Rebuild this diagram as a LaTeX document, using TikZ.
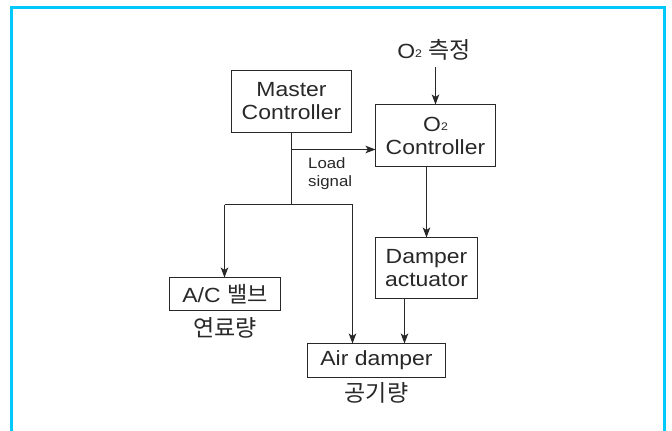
\documentclass[tikz,border=0pt]{standalone}
\usepackage{fontspec}
\setmainfont[FakeStretch=1.12]{Liberation Sans}
\newfontfamily\kr{Noto Sans CJK KR}
\usetikzlibrary{arrows.meta,calc}
\definecolor{frame}{RGB}{0,200,250}
\definecolor{ink}{RGB}{40,40,40}
\newcommand{\sub}[1]{\raisebox{1pt}{\fontsize{11}{11}\selectfont #1}}
\begin{document}
\begin{tikzpicture}[x=1pt,y=-1pt,
  box/.style={draw=ink,line width=1pt,text=ink,align=center,inner sep=0pt,outer sep=0pt,
    font=\fontsize{20.5}{23}\selectfont},
  arr/.style={draw=ink,line width=1pt,-{Stealth[length=10pt,width=7.5pt,inset=2.5pt]}},
  ln/.style={draw=ink,line width=1pt},
  lbl/.style={text=ink,inner sep=0pt,font=\fontsize{23}{25}\kr}]
\useasboundingbox (0,0) rectangle (672,431);
\fill[white] (0,0) rectangle (672,431);
\draw[frame,line width=3pt] (11.5,440) -- (11.5,7.5) -- (664.5,7.5) -- (664.5,440);

\node[box,minimum width=120pt,minimum height=62pt] (master) at (291.5,101.5) {Master\\Controller};
\node[box,minimum width=120pt,minimum height=62pt] (o2c) at (435.5,135.5) {O\sub{2}\\Controller};
\node[box,minimum width=102pt,minimum height=61pt] (dact) at (426.5,268) {Damper\\actuator};
\node[box,minimum width=111pt,minimum height=33pt] (ac) at (225,294) {A/C {\kr\fontsize{22}{23}\selectfont 밸브}};
\node[box,minimum width=138pt,minimum height=34pt] (air) at (376.5,360.5) {Air damper};

\node[text=ink,inner sep=0pt,font=\fontsize{20.5}{23}\selectfont] (o2m) at (434,50) {O\sub{2} {\kr\fontsize{23}{25}\selectfont 측정}};
\node[lbl] (fuel) at (225,328) {연료량};
\node[lbl] (airq) at (376.5,393) {공기량};
\node[text=ink,inner sep=0pt,align=left,anchor=north west,font=\fontsize{15}{18}\selectfont] (load) at (308,157) {Load\\signal};

\coordinate (ls) at (291.5,149.5);
\coordinate (j) at (291.5,204.5);
\coordinate (jl) at (224.5,204.5);
\coordinate (jr) at (352.5,204.5);
\coordinate (o2top) at (435.5,67);
\coordinate (da) at (404.5,299);

\draw[arr] (o2top) -- (o2top |- o2c.north);
\draw[ln] (master.south) -- (j);
\draw[arr] (ls) -- (ls -| o2c.west);
\draw[ln] (jl) -- (jr);
\draw[arr] (jl) -- (jl |- ac.north);
\draw[arr] (jr) -- (jr |- air.north);
\draw[arr] (dact.north |- o2c.south) -- (dact.north);
\draw[arr] (da |- dact.south) -- (da |- air.north);
\end{tikzpicture}
\end{document}
